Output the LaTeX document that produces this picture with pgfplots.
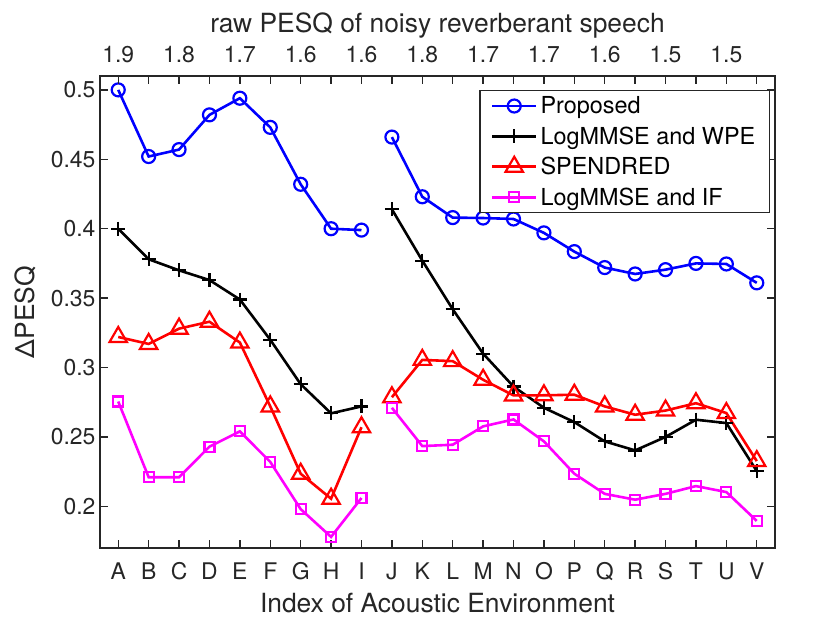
\documentclass[border=0pt]{standalone}
\usepackage{fontspec}
\setmainfont{TeX Gyre Heros}
\usepackage{pgfplots}
\pgfplotsset{compat=1.18}
\usepackage{pgfplotstable}
\definecolor{axgray}{gray}{0.15}
\definecolor{mblue}{rgb}{0,0,1}
\definecolor{mred}{rgb}{1,0,0}
\definecolor{mmag}{rgb}{1,0,1}

\pgfplotstableread{
x prop wpe spend lif
0 0.500 0.400 0.322 0.2755
1 0.452 0.378 0.317 0.221
2 0.457 0.370 0.328 0.221
3 0.482 0.363 0.333 0.243
4 0.494 0.349 0.318 0.254
5 0.473 0.320 0.272 0.232
6 0.432 0.288 0.2235 0.198
7 0.400 0.267 0.2055 0.178
8 0.399 0.272 0.257 0.206
8.5 nan nan nan nan
9 0.466 0.414 0.2786 0.271
10 0.423 0.377 0.3055 0.2434
11 0.408 0.342 0.3046 0.2444
12 0.4077 0.310 0.2912 0.2576
13 0.407 0.2863 0.2799 0.2626
14 0.397 0.271 0.280 0.2468
15 0.3835 0.2607 0.2804 0.2235
16 0.372 0.2468 0.272 0.209
17 0.3674 0.2403 0.266 0.2048
18 0.3705 0.250 0.269 0.209
19 0.375 0.2624 0.2743 0.2146
20 0.3746 0.260 0.2672 0.2103
21 0.361 0.2254 0.2326 0.1895
}\data

\pgfplotsset{
  common/.style={
    scale only axis, width=675bp, height=472bp,
    xmin=-0.6, xmax=21.6, ymin=0.17, ymax=0.51,
    tick align=inside, major tick length=8bp,
    axis line style={axgray, line width=1.8bp},
    tick style={axgray, line width=1.3bp},
    ticklabel style={font=\fontsize{23}{27}\selectfont, text=axgray},
    label style={font=\fontsize{26.5}{30}\selectfont, text=axgray},
    /pgf/number format/assume math mode=true,
  }
}

\begin{document}
\begin{tikzpicture}
\begin{axis}[common, name=ax,
  xtick={0,...,21},
  xticklabels={A,B,C,D,E,F,G,H,I,J,K,L,M,N,O,P,Q,R,S,T,U,V},
  xtick pos=bottom,
  xticklabel style={anchor=base, yshift=-31bp},
  ytick={0.2,0.25,0.3,0.35,0.4,0.45,0.5},
  yticklabels={0.2,0.25,0.3,0.35,0.4,0.45,0.5},
  ytick pos=both,
  yticklabel style={xshift=-1bp},
  xlabel={Index of Acoustic Environment},
  xlabel style={at={(axis description cs:0.5,0)}, anchor=base, yshift=-64bp},
  ylabel={ΔPESQ},
  ylabel style={at={(axis description cs:0,0.5)}, anchor=center, yshift=75bp},
  unbounded coords=jump,
  legend cell align=left,
  legend image code/.code={\draw[mark repeat=2,mark phase=2,#1] plot coordinates {(0bp,0bp) (22bp,0bp) (44bp,0bp)};},
  legend style={at={(1,1)}, anchor=north east, xshift=-5bp, yshift=-14bp,
    draw=axgray, line width=1.5bp, font=\fontsize{23.5}{28}\selectfont,
    inner xsep=11bp, inner ysep=4bp, row sep=7.5bp,
    /tikz/every even column/.append style={column sep=13bp},
    nodes={inner xsep=3bp}},
]
\addplot[mblue, line width=2.6bp, mark=o, mark size=6.5bp, mark options={line width=2.2bp}] table[x=x,y=prop] {\data};
\addlegendentry{Proposed}
\addplot[black, line width=2.6bp, mark=+, mark size=7bp, mark options={line width=2.2bp}] table[x=x,y=wpe] {\data};
\addlegendentry{LogMMSE and WPE}
\addplot[mred, line width=2.6bp, mark=triangle, mark size=10bp, mark options={line width=2.2bp}] table[x=x,y=spend] {\data};
\addlegendentry{SPENDRED}
\addplot[mmag, line width=2.6bp, mark=square, mark size=5bp, mark options={line width=2.2bp}] table[x=x,y=lif] {\data};
\addlegendentry{LogMMSE and IF}
\end{axis}
\begin{axis}[common, at={(ax.south west)}, anchor=south west,
  axis x line*=top, hide y axis,
  xtick={0,...,21},
  xticklabels={1.9,,1.8,,1.7,,1.6,,1.6,,1.8,,1.7,,1.7,,1.6,,1.5,,1.5,},
  xticklabel style={anchor=base, yshift=13bp},
  xlabel={raw PESQ of noisy reverberant speech},
  xlabel style={at={(axis description cs:0.5,1)}, anchor=base, yshift=43bp},
]
\addplot[draw=none] coordinates {(0,0.3)};
\end{axis}
\pgfresetboundingbox
\path ([xshift=-100bp,yshift=-75bp]ax.south west) rectangle ([xshift=55bp,yshift=76bp]ax.north east);
\end{tikzpicture}
\end{document}
